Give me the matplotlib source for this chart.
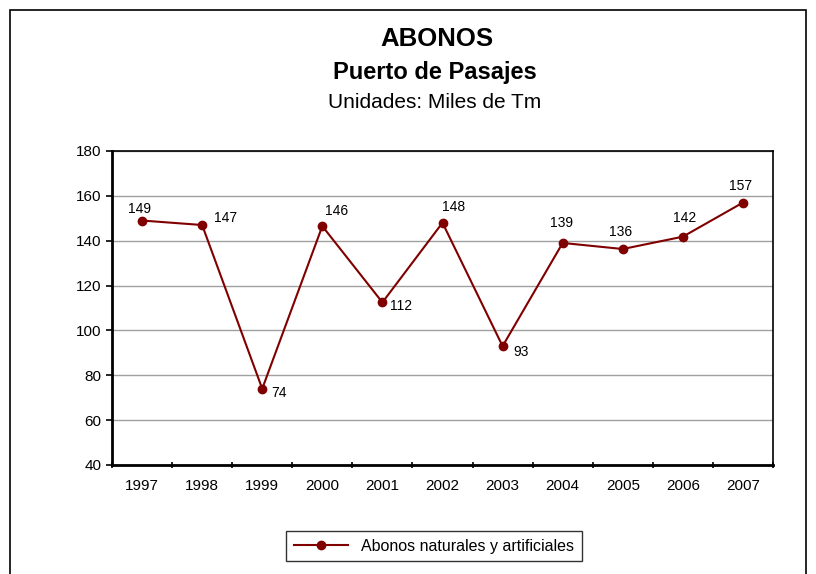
import matplotlib.pyplot as plt
from matplotlib.patches import Rectangle

plt.rcParams['font.family'] = ['Liberation Sans', 'DejaVu Sans']

años = ["1997", "1998", "1999", "2000", "2001", "2002", "2003", "2004", "2005", "2006", "2007"]
abonos = [149, 147, 74, 146.5, 112.5, 148, 93, 139, 136.3, 141.8, 157]
etiquetas = ["149", "147", "74", "146", "112", "148", "93", "139", "136", "142", "157"]
# desplazamiento de cada etiqueta (pixeles)
desp = [(-3, 12), (23, 7), (17, -4), (14, 15), (19, -4), (11, 16),
        (18, -6), (-1, 20), (-2, 17), (2, 19), (-2, 17)]

rojo = "#800000"

fig = plt.figure(figsize=(8.16, 5.74), dpi=100)
fig.patches.append(Rectangle((10/816, -0.05), 796/816, 1.05 - 10/574,
                             transform=fig.transFigure, fill=False,
                             edgecolor="black", linewidth=1.2))

ax = fig.add_axes([112/816, 1 - 465/574, 661/816, 314/574])
x = list(range(len(años)))
ax.plot(x, abonos, color=rojo, marker="o", markersize=6, linewidth=1.5,
        label="Abonos naturales y artificiales")

for xi, yi, t, d in zip(x, abonos, etiquetas, desp):
    ax.annotate(t, (xi, yi), xytext=d, textcoords="offset pixels",
                ha="center", va="center", fontsize=10)

ax.set_xlim(-0.5, len(años) - 0.5)
ax.set_ylim(40, 180)
ax.set_yticks(range(40, 181, 20))
ax.set_xticks(x)
ax.set_xticklabels(años)
ax.set_xticks([i + 0.5 for i in range(-1, len(años))], minor=True)
ax.tick_params(axis="x", which="major", length=0, pad=10, labelsize=11)
ax.tick_params(axis="x", which="minor", length=5, direction="inout", width=1.2)
ax.tick_params(axis="y", length=4, direction="out", width=1.2, labelsize=11)
ax.yaxis.grid(True, color="#a0a0a0", linewidth=1)
ax.set_axisbelow(True)
for lado in ["top", "right"]:
    ax.spines[lado].set_linewidth(1.2)
for lado in ["left", "bottom"]:
    ax.spines[lado].set_linewidth(2)

fig.text(437/816, 1 - 39/574, "ABONOS", ha="center", va="center",
         fontsize=18.5, fontweight="bold")
fig.text(435/816, 1 - 72/574, "Puerto de Pasajes", ha="center", va="center",
         fontsize=17, fontweight="bold")
fig.text(435/816, 1 - 103/574, "Unidades: Miles de Tm", ha="center", va="center",
         fontsize=15)

leg = fig.legend(loc="center", bbox_to_anchor=(434/816, 1 - 546/574),
                 frameon=True, fancybox=False, fontsize=11.5, borderpad=0.5,
                 handlelength=3.4)
leg.get_frame().set_edgecolor("black")
leg.get_frame().set_linewidth(1)

fig.savefig("out.png", dpi=100)
